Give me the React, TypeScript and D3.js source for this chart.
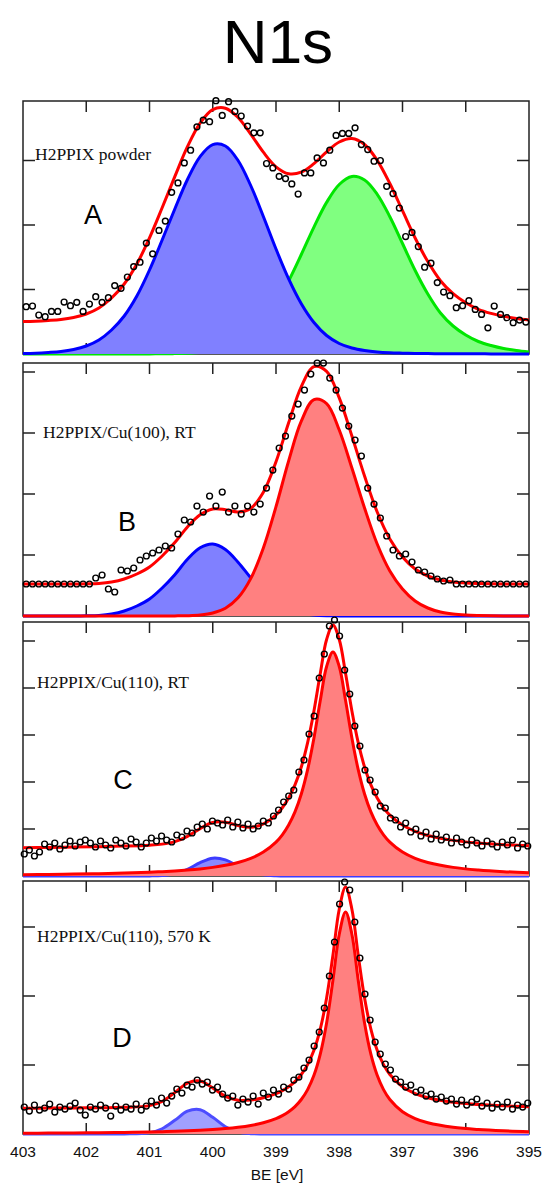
import React from "react";
import * as d3 from "d3";

const WIDTH = 544;
const HEIGHT = 1187;

// binding energy axis (eV), drawn high -> low
const beTicks = [403, 402, 401, 400, 399, 398, 397, 396, 395];

// energy grid of the fitted curves, panels A and B
const fitGridAB = [
  403.0, 402.8, 402.6, 402.4, 402.2, 402.0, 401.8, 401.6, 401.4, 401.2, 401.0,
  400.8, 400.6, 400.4, 400.2, 400.0, 399.8, 399.6, 399.4, 399.2, 399.0,
  398.8, 398.6, 398.4, 398.2, 398.0, 397.8, 397.6, 397.4, 397.2, 397.0,
  396.8, 396.6, 396.4, 396.2, 396.0, 395.8, 395.6, 395.4, 395.2, 395.0
];

// energy grid of the fitted curves, panels C and D (finer round the main peak)
const fitGridCD = [
  403.0, 402.6, 402.2, 401.8, 401.4,
  401.0, 400.8, 400.6, 400.4, 400.2, 400.0, 399.8, 399.6, 399.4, 399.2,
  399.0, 398.9, 398.8, 398.7, 398.6, 398.5, 398.4, 398.3, 398.2, 398.1,
  398.0, 397.9, 397.8, 397.7, 397.6, 397.5, 397.4, 397.3,
  397.2, 397.0, 396.8, 396.6,
  396.2, 395.8, 395.4, 395.0
];

// fitted components (intensity, a.u.)
const fitA_iminic = [
  0.5, 0.8, 1.5, 2.5, 4.5, 8, 14, 24, 38, 58, 84,
  114, 145, 174.5, 197.4, 209.4, 208, 193.5, 168.5, 137.5, 105,
  75.1, 50.3, 31.5, 18.5, 10.5, 6, 3.5, 2, 1.2, 0.8,
  0.5, 0.4, 0.3, 0.3, 0.2, 0.2, 0.1, 0.1, 0.1, 0.1
];
const fitA_aminic = [
  0, 0, 0, 0, 0, 0, 0, 0, 0, 0, 0.1,
  0.2, 0.4, 0.8, 1.5, 3, 5.8, 11, 19.4, 32.3, 50.2,
  73.1, 99.5, 126.9, 151.6, 169.5, 177.5, 174, 159.7, 137.3, 110.5,
  83.5, 60, 41, 28, 19, 12.5, 8.5, 5.5, 3.5, 2
];
const backgroundA = 32;

const fitB_iminic = [
  0, 0, 0, 0, 0, 0.2, 0.6, 2, 5, 10, 17,
  28, 41.3, 56.7, 68.2, 72, 66.5, 53.8, 38.2, 23.7, 12.9,
  6.1, 2.6, 1, 0.3, 0.1, 0, 0, 0, 0, 0,
  0, 0, 0, 0, 0, 0, 0, 0, 0, 0
];
const fitB_metal = [
  0, 0, 0, 0, 0, 0, 0, 0, 0, 0, 0,
  0, 0.1, 0.3, 1, 3, 7.8, 18.2, 37.4, 68, 109.3,
  155.1, 194.8, 216.4, 212.4, 186, 148, 108, 72, 45, 27,
  15, 8, 4, 2, 1, 0.5, 0.2, 0.1, 0, 0
];
const backgroundB = 32;

const fitC_iminic = [
  0, 0, 0, 0, 0,
  0.08, 0.53, 2.29, 6.7, 13.3, 17.8, 16.1, 9.9, 4.1, 1.15,
  0.22, 0.08, 0, 0, 0, 0, 0, 0, 0, 0,
  0, 0, 0, 0, 0, 0, 0, 0,
  0, 0, 0, 0,
  0, 0, 0, 0
];
const fitC_metal = [
  1.34, 1.59, 1.91, 2.34, 2.93,
  3.78, 4.35, 5.06, 5.96, 7.11, 8.62, 10.66, 13.51, 17.6, 23.9,
  33.9, 41.2, 51, 64.1, 82, 106.3, 138, 175.4, 209.5, 224,
  209.5, 175.4, 138, 106.3, 82, 64.1, 51, 41.2,
  33.9, 23.9, 17.6, 13.51,
  8.62, 5.96, 4.35, 3.32
];
const backgroundC = 27;

const fitD_iminic = [
  0, 0, 0, 0, 0.02,
  1.3, 5.25, 13.65, 22.8, 24.3, 16.7, 7.3, 2.07, 0.37, 0.04,
  0, 0, 0, 0, 0, 0, 0, 0, 0, 0,
  0, 0, 0, 0, 0, 0, 0, 0,
  0, 0, 0, 0,
  0, 0, 0, 0
];
const fitD_metal = [
  0.77, 0.9, 1.08, 1.31, 1.62,
  2.06, 2.35, 2.71, 3.15, 3.71, 4.44, 5.4, 6.71, 8.54, 11.22,
  15.37, 18.33, 22.2, 27.4, 34.5, 44.4, 58.7, 79.9, 111, 153.7,
  199.8, 222, 199.8, 153.7, 111, 79.9, 58.7, 44.4,
  34.5, 22.2, 15.37, 11.22,
  6.71, 4.44, 3.15, 2.35
];
const backgroundD = 25;

// measured spectra (intensity, a.u.), evenly spaced between first and last energy
const rangeAB = [402.95, 395.05];
const rangeCD = [402.98, 395.02];

const dataA = [
  47.3, 48, 39, 37.3, 42.6, 42.6, 52, 48.3, 51.7, 42.6,
  50, 57.3, 51.7, 56.3, 68.4, 65.7, 77, 87.4, 91.8, 110.9,
  100.2, 123.6, 132.9, 161.7, 171.1, 191.1, 203.8, 227.2, 233.9, 232.3,
  253.3, 238.6, 252.3, 242.6, 238, 227.9, 221.2, 221.2, 190.5, 186.1,
  177.7, 175.4, 170.1, 160, 181.1, 181.1, 196.1, 191.1, 203.8, 218.6,
  220.6, 220.6, 226.2, 209.5, 204.5, 192.8, 193.5, 167.7, 160.4, 146,
  117.5, 121.6, 107.5, 86.8, 90.8, 71.4, 62, 58.3, 46.3, 48.3,
  53.3, 44.6, 39.6, 26.2, 48, 39.6, 36.3, 31.3, 33.9, 31.9
];

const dataB = [
  32, 32, 32, 32, 32, 32, 32, 32, 32, 32, 32,
  38, 41, 27, 24, 46, 45, 48, 56, 60, 63,
  66, 70, 68, 82, 96, 94, 110, 104, 120, 110,
  124, 104, 110, 102, 110, 104, 112, 128, 146, 168,
  180, 200, 212, 226, 242, 253, 253, 238, 226, 208,
  190, 176, 160, 128, 112, 98, 80, 66, 60, 62,
  54, 46, 44, 40, 37, 35, 36, 32, 32, 32,
  32, 32, 32, 32, 32, 32, 32, 32, 32
];

const dataC = [
  22, 26, 20, 24, 32, 29, 33, 27, 31, 35,
  30, 34, 36, 33, 29, 35, 31, 28, 36, 33,
  30, 37, 34, 29, 33, 38, 35, 40, 36, 34,
  41, 39, 45, 43, 49, 52, 47, 55, 53, 51,
  56, 49, 54, 48, 52, 47, 50, 55, 53, 60,
  66, 74, 80, 86, 104, 116, 142, 160, 198, 222,
  250, 256, 240, 206, 182, 150, 130, 106, 96, 84,
  70, 68, 58, 56, 49, 53, 44, 47, 40, 44,
  37, 42, 36, 39, 33, 38, 34, 31, 36, 33,
  30, 35, 32, 29, 34, 31, 36, 28, 32, 30
];

const dataD = [
  27, 23, 29, 24, 26, 30, 22, 27, 25, 28,
  31, 24, 19, 27, 25, 29, 26, 18, 28, 24,
  27, 25, 30, 24, 28, 33, 29, 36, 31, 38,
  45, 41, 49, 47, 54, 50, 52, 44, 47, 40,
  36, 38, 29, 35, 32, 38, 30, 41, 37, 44,
  40, 47, 45, 54, 57, 66, 74, 88, 102, 126,
  158, 192, 230, 252, 244, 212, 176, 140, 114, 92,
  80, 70, 64, 55, 52, 47, 49, 42, 44, 38,
  40, 35, 37, 33, 35, 30, 34, 29, 32, 35,
  28, 31, 26, 30, 27, 32, 25, 29, 27, 31
];

const RED = "#ff0000";
const RED_FILL = "#ff8080";

const panels = [
  {
    letter: "A", sample: "H2PPIX powder",
    top: 101, bottom: 354, yMax: 253, tickStep: 64.5,
    grid: fitGridAB, background: backgroundA, data: dataA, range: rangeAB,
    comps: [
      { values: fitA_aminic, stroke: "#00e600", fill: "#80ff80" },
      { values: fitA_iminic, stroke: "#0000ff", fill: "#8080ff" }
    ],
    sampleX: 35, sampleY: 160, letterX: 93, letterY: 224
  },
  {
    letter: "B", sample: "H2PPIX/Cu(100), RT",
    top: 363, bottom: 616, yMax: 253, tickStep: 61,
    grid: fitGridAB, background: backgroundB, data: dataB, range: rangeAB,
    comps: [
      { values: fitB_iminic, stroke: "#0000ff", fill: "#8080ff" },
      { values: fitB_metal, stroke: RED, fill: RED_FILL }
    ],
    sampleX: 43, sampleY: 438, letterX: 127, letterY: 531
  },
  {
    letter: "C", sample: "H2PPIX/Cu(110), RT",
    top: 622, bottom: 876, yMax: 254, tickStep: 47,
    grid: fitGridCD, background: backgroundC, data: dataC, range: rangeCD,
    comps: [
      { values: fitC_iminic, stroke: "#3c3cff", fill: "#8a8aff" },
      { values: fitC_metal, stroke: RED, fill: RED_FILL }
    ],
    sampleX: 37, sampleY: 688, letterX: 123, letterY: 789
  },
  {
    letter: "D", sample: "H2PPIX/Cu(110), 570 K",
    top: 881, bottom: 1134, yMax: 253, tickStep: 69,
    grid: fitGridCD, background: backgroundD, data: dataD, range: rangeCD,
    comps: [
      { values: fitD_iminic, stroke: "#4d4dff", fill: "#a0a0ff" },
      { values: fitD_metal, stroke: RED, fill: RED_FILL }
    ],
    sampleX: 37, sampleY: 942, letterX: 122, letterY: 1047
  }
];

const x = d3.scaleLinear().domain([403, 395]).range([23, 529]);
const sans = "'Liberation Sans', Arial, Helvetica, sans-serif";
const serif = "'Liberation Serif', 'Times New Roman', serif";

function Panel({ p, last }) {
  const y = d3.scaleLinear().domain([0, p.yMax]).range([p.bottom, p.top]);
  const curve = d3.curveCatmullRom.alpha(0.5);
  const line = d3.line().x(d => x(d[0])).y(d => y(d[1])).curve(curve);
  const area = d3.area().x(d => x(d[0])).y0(y(0)).y1(d => y(d[1])).curve(curve);

  const envelope = p.grid.map((e, i) => [
    e,
    p.background + d3.sum(p.comps, c => c.values[i])
  ]);
  const n = p.data.length;
  const be = d3.scaleLinear().domain([0, n - 1]).range(p.range);

  const yTicks = d3.range(1, 10).map(k => k * p.tickStep).filter(v => y(v) > p.top + 6);

  return (
    <g>
      <rect x={x(403)} y={p.top} width={x(395) - x(403)} height={p.bottom - p.top}
        fill="none" stroke="#222" strokeWidth={1.5} />
      {beTicks.slice(1, -1).map(t => (
        <g key={t} stroke="#222" strokeWidth={1.5}>
          <line x1={x(t)} x2={x(t)} y1={p.top} y2={p.top + 11} />
          <line x1={x(t)} x2={x(t)} y1={p.bottom} y2={p.bottom - 11} />
        </g>
      ))}
      {yTicks.map(v => (
        <g key={v} stroke="#222" strokeWidth={1.5}>
          <line x1={x(403)} x2={x(403) + 12} y1={y(v)} y2={y(v)} />
          <line x1={x(395)} x2={x(395) - 12} y1={y(v)} y2={y(v)} />
        </g>
      ))}
      {p.comps.map((c, j) => {
        const pts = p.grid.map((e, i) => [e, c.values[i]]);
        return (
          <g key={j}>
            <path d={area(pts)} fill={c.fill} stroke="none" />
            <path d={line(pts)} fill="none" stroke={c.stroke} strokeWidth={3} />
          </g>
        );
      })}
      <path d={line(envelope)} fill="none" stroke={RED} strokeWidth={3} />
      {p.data.map((v, i) => (
        <circle key={i} cx={x(be(i))} cy={y(v)} r={2.9}
          fill="none" stroke="#000" strokeWidth={1.45} />
      ))}
      <text x={p.sampleX} y={p.sampleY} fontFamily={serif} fontSize={17.5} fill="#111">
        {p.sample}
      </text>
      <text x={p.letterX} y={p.letterY} fontFamily={sans} fontSize={27}
        textAnchor="middle" fill="#000">
        {p.letter}
      </text>
      {last && beTicks.map(t => (
        <text key={t} x={x(t)} y={1157} fontFamily={sans} fontSize={15.5}
          textAnchor="middle" fill="#111">
          {t}
        </text>
      ))}
    </g>
  );
}

export default function App() {
  return (
    <div style={{ position: "absolute", left: 0, top: 0, width: WIDTH, height: HEIGHT, background: "#fff" }}>
      <svg width={WIDTH} height={HEIGHT} style={{ display: "block" }}>
        <text x={278} y={63} fontFamily={sans} fontSize={62} textAnchor="middle" fill="#000">
          N1s
        </text>
        {panels.map((p, i) => (
          <Panel key={p.letter} p={p} last={i === panels.length - 1} />
        ))}
        <text x={277} y={1180} fontFamily={sans} fontSize={15.5} textAnchor="middle" fill="#111">
          BE [eV]
        </text>
      </svg>
    </div>
  );
}
